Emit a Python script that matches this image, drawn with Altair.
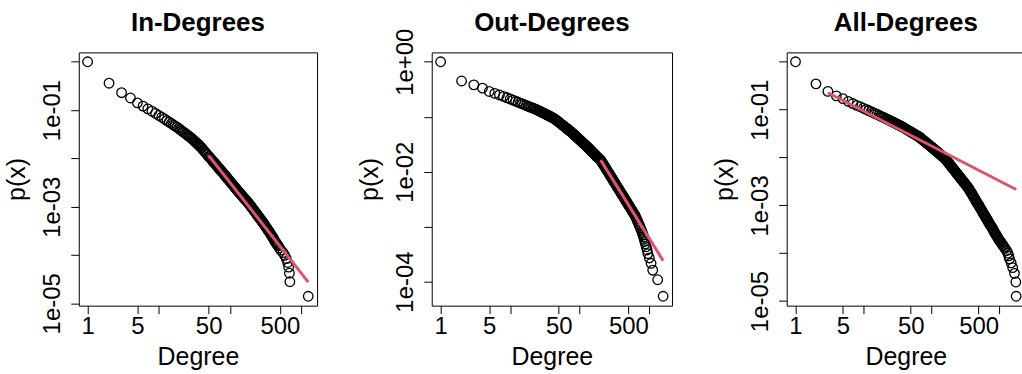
import math
import altair as alt
import pandas as pd

# ---------------- data ----------------
base_deg = list(range(1, 41)) + [42, 44, 46, 48, 50, 52, 54, 56, 58, 60,
    62, 64, 65, 67, 69, 70, 72, 74, 76, 78,
    80, 82, 84, 86, 88, 90, 92, 95, 97, 100,
    102, 105, 107, 110, 113, 116, 119, 122, 125, 128,
    131, 134, 138, 141, 145, 148, 152, 156, 160, 164,
    168, 172, 176, 181, 185, 190, 195, 200, 205, 210,
    215, 220, 226, 232, 237, 243, 249, 256, 262, 268,
    275, 282, 289, 296, 304, 311, 319, 327, 335, 344,
    352, 361, 370, 379, 389, 399, 409, 419, 429, 440,
    451, 462, 474]

mid_deg = [486, 498, 511, 524, 537, 550, 564, 578, 593, 608, 623, 639, 655,
           671, 688, 705, 723, 741, 760, 780]

# In-degrees
in_p = [1, .36, .229, .178, .141, .121, .106, .0948, .0853, .0773,
        .071, .0655, .0607, .0564, .0527, .0495, .0467, .0442, .0417, .0394,
        .0372, .0354, .0336, .0321, .0306, .0292, .0281, .0269, .0258, .0246,
        .0235, .0225, .0216, .0208, .02, .0192, .0185, .0177, .017, .0163,
        .015, .0138, .0128, .0119, .011, .0104, .00973, .00912, .00859, .00811,
        .00767, .00726, .00706, .0067, .00637, .00622, .00592, .00566, .0054, .00516,
        .00494, .00472, .00454, .00436, .00419, .00401, .00385, .00363, .00351, .00332,
        .00321, .00305, .00294, .00281, .00267, .00255, .00243, .00233, .00223, .00214,
        .00206, .00197, .00188, .00181, .00173, .00167, .00159, .00152, .00146, .0014,
        .00135, .00129, .00124, .00118, .00114, .00108, .00103, .00098, .00093, .00089,
        .00085, .00081, .00077, .00073, .0007, .00066, .00063, .0006, .00057, .00055,
        .00052, .00049, .00047, .00045, .00042, .0004, .00038, .00036, .00034, .00032,
        .00031, .00029, .00027, .00026, .00024, .00023, .00022, .0002, .00019, .00018,
        .00017, .00016, .000155]
in_tail_deg = [490, 514, 553, 585, 615, 643, 664, 680, 690, 1250]
in_tail_p = [1.4e-4, 1.26e-4, 1.12e-4, 9.8e-5, 8.4e-5, 7.0e-5, 5.6e-5, 4.2e-5, 2.8e-5, 1.4e-5]
in_fit_deg = [50, 1250]
in_fit_p = [0.0115, 2.75e-5]

# Out-degrees
out_p = [1, .447, .38, .331, .288, .266, .249, .234, .221, .21,
         .2, .191, .184, .177, .171, .165, .16, .156, .151, .147,
         .144, .141, .137, .134, .131, .128, .125, .122, .119, .117,
         .115, .112, .11, .108, .106, .104, .102, .1, .0989, .0973,
         .0943, .0906, .0865, .083, .0796, .0766, .0738, .0711, .0687, .0664,
         .0643, .0622, .0612, .0594, .0577, .0569, .0553, .0538, .0521, .0506,
         .0491, .0477, .0465, .0452, .044, .0429, .0417, .0402, .0393, .0379,
         .037, .0358, .035, .0339, .0328, .0319, .0309, .0301, .0292, .0284,
         .0276, .0268, .0258, .0251, .0242, .0236, .0228, .022, .0213, .0206,
         .02, .0194, .0188, .0182, .0178, .0172, .0167, .0162, .0154, .0147,
         .014, .0134, .0126, .012, .0115, .0109, .0104, .00982, .00935, .00893,
         .00848, .00805, .00766, .0073, .0069, .00658, .00625, .00593, .00566, .00536,
         .0051, .00485, .00462, .0044, .00417, .00396, .00377, .00359, .00343, .00325,
         .00309, .00293, .00279]
out_mid_p = [.00265, .00252, .0024, .00228, .00216, .00206, .00196, .00186, .00177,
             .00168, .0016, .00149, .00139, .00129, .0012, .00111, .00104, .00096,
             .00089, .00082]
out_tail_deg = [800, 815, 830, 845, 860, 880, 905, 930, 955, 1000, 1060, 1120, 1320, 1580]
out_tail_p = [7.5e-4, 7.0e-4, 6.45e-4, 5.9e-4, 5.4e-4, 4.85e-4, 4.3e-4, 3.76e-4,
              3.23e-4, 2.69e-4, 2.15e-4, 1.61e-4, 1.08e-4, 5.4e-5]
out_fit_deg = [200, 1580]
out_fit_p = [0.0162, 2.4e-4]

# All-degrees
all_p = [1, .346, .24, .194, .17, .149, .134, .123, .115, .107,
         .101, .0957, .0908, .0865, .0826, .0793, .0762, .0734, .0708, .0685,
         .0664, .0643, .0621, .0604, .0586, .0569, .0555, .054, .0527, .0514,
         .0502, .0491, .048, .047, .046, .0451, .0442, .0433, .0423, .0414,
         .0397, .0383, .0368, .0356, .0344, .0332, .0322, .0312, .0303, .0294,
         .0287, .0279, .0275, .0267, .0258, .0254, .0246, .0238, .0231, .0224,
         .0218, .0211, .0206, .02, .0195, .019, .0185, .0178, .0174, .0168,
         .0164, .0158, .0155, .015, .0146, .0141, .0136, .0133, .0129, .0125,
         .0122, .0118, .0114, .0111, .0107, .0104, .0101, .0098, .00948, .00914,
         .00877, .00838, .00804, .00766, .00736, .00701, .0067, .0064, .00611, .00586,
         .00562, .0054, .00514, .00491, .00471, .0045, .00432, .00411, .00394, .00378,
         .00362, .00346, .0033, .00317, .00302, .0029, .00277, .00265, .00254, .00242,
         .00232, .00219, .00207, .00195, .00184, .00173, .00163, .00154, .00146, .00137,
         .00129, .00121, .00114]
all_mid_p = [.00107, .00102, .00096, .0009, .00085, .0008, .00076, .00071, .00067,
             .00063, .00059, .00056, .00053, .0005, .00047, .00044, .00041, .00039,
             .00037, .00035]
all_ext_deg = [800, 820, 840, 860, 880, 900, 925, 950, 975, 1000, 1030, 1060, 1090,
               1120, 1150, 1190]
all_ext_p = [.00033, .00031, .00029, .00027, .00026, .000245, .00023, .000215, .000202,
             .00019, .000179, .00017, .000161, .000152, .000144, .000134]
all_tail_deg = [1230, 1290, 1350, 1390, 1430, 1510, 1590, 1690, 1770, 1790]
all_tail_p = [1.26e-4, 1.13e-4, 1.01e-4, 8.8e-5, 7.6e-5, 6.3e-5, 5.0e-5, 3.8e-5, 2.5e-5, 1.26e-5]
all_fit_deg = [3, 1790]
all_fit_p = [0.225, 0.00214]

x_ticks = [1, 5, 10, 50, 100, 500, 1000]
x_tick_labels = [1, 5, 50, 500]

FONT = "Liberation Sans"
RED = "#DF536B"


def panel(title, deg, p, fit_deg, fit_p, y_ticks, y_labels, width, title_dy=0):
    df = pd.DataFrame({"deg": deg, "p": p})
    fit = pd.DataFrame({"deg": fit_deg, "p": fit_p})
    lx0, lx1 = math.log10(min(deg)), math.log10(max(deg))
    ly0, ly1 = math.log10(min(p)), math.log10(max(p))
    ex, ey = 0.04 * (lx1 - lx0), 0.04 * (ly1 - ly0)
    xs = alt.Scale(type="log", domain=[10 ** (lx0 - ex), 10 ** (lx1 + ex)], nice=False)
    ys = alt.Scale(type="log", domain=[10 ** (ly0 - ey), 10 ** (ly1 + ey)], nice=False)
    x_expr = "indexof(%s, datum.value) >= 0 ? toString(datum.value) : ''" % (x_tick_labels,)
    y_expr = ""
    for v, lab in y_labels:
        y_expr += "datum.value == %r ? '%s' : " % (v, lab)
    y_expr += "''"
    xax = alt.Axis(values=x_ticks, labelExpr=x_expr, title="Degree",
                   labelPadding=1, titlePadding=6)
    yax = alt.Axis(values=y_ticks, labelExpr=y_expr, title="p(x)",
                   labelAngle=-90, labelAlign="center", labelBaseline="bottom",
                   labelPadding=6, titlePadding=11)
    pts = alt.Chart(df).mark_point(shape="circle", size=92, filled=False, color="black",
                                   strokeWidth=1.3, opacity=1).encode(
        x=alt.X("deg:Q", scale=xs, axis=xax),
        y=alt.Y("p:Q", scale=ys, axis=yax),
    )
    line = alt.Chart(fit).mark_line(color=RED, strokeWidth=3).encode(
        x=alt.X("deg:Q"), y=alt.Y("p:Q"))
    tp = dict(fontSize=26, fontWeight="bold", font=FONT, anchor="middle",
              frame="group", color="black", offset=16)
    if title_dy:
        tp["dy"] = title_dy
    return alt.layer(pts, line).properties(
        width=width, height=254, title=alt.TitleParams(title, **tp))


p1 = panel("In-Degrees", base_deg + in_tail_deg, in_p + in_tail_p, in_fit_deg, in_fit_p,
           [1, 0.1, 0.01, 0.001, 1e-4, 1e-5],
           [(0.1, "1e-01"), (0.001, "1e-03"), (1e-5, "1e-05")], 239)
p2 = panel("Out-Degrees", base_deg + mid_deg + out_tail_deg, out_p + out_mid_p + out_tail_p,
           out_fit_deg, out_fit_p,
           [1, 0.1, 0.01, 0.001, 1e-4],
           [(1, "1e+00"), (0.01, "1e-02"), (1e-4, "1e-04")], 241, title_dy=24)
p3 = panel("All-Degrees", base_deg + mid_deg + all_ext_deg + all_tail_deg,
           all_p + all_mid_p + all_ext_p + all_tail_p, all_fit_deg, all_fit_p,
           [1, 0.1, 0.01, 0.001, 1e-4, 1e-5],
           [(0.1, "1e-01"), (0.001, "1e-03"), (1e-5, "1e-05")], 239)

chart = alt.hconcat(p1, p2, p3, spacing=39).properties(
    padding={"left": 4, "top": 9, "right": -4, "bottom": 0},
    background="white",
).configure_view(stroke="black", strokeWidth=1).configure_axis(
    domain=False, grid=False, ticks=True, tickSize=8, tickColor="black", tickWidth=1,
    labelFont=FONT, labelFontSize=24, labelColor="black",
    titleFont=FONT, titleFontSize=25, titleFontWeight="normal", titleColor="black",
    labelOverlap=False, labelFlush=False,
)

chart.save("out.html", embed_options={"renderer": "svg", "actions": False})
